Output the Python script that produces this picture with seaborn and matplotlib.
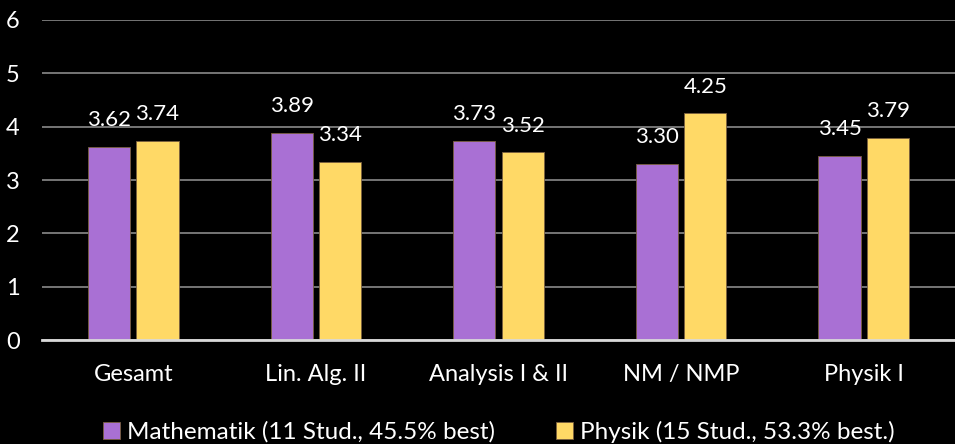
import seaborn as sns
import pandas as pd
import matplotlib.pyplot as plt

kurse = ["Gesamt", "Lin. Alg. II", "Analysis I & II", "NM / NMP", "Physik I"]
mathe = [3.62, 3.89, 3.73, 3.30, 3.45]
physik = [3.74, 3.34, 3.52, 4.25, 3.79]
gruppen = ["Mathematik (11 Stud., 45.5% best)", "Physik (15 Stud., 53.3% best.)"]

df = pd.DataFrame({
    "Kurs": kurse * 2,
    "Note": mathe + physik,
    "Gruppe": [gruppen[0]] * len(kurse) + [gruppen[1]] * len(kurse),
})

sns.set_theme(style="dark")
plt.rcParams["font.family"] = ["Lato", "DejaVu Sans"]

fig = plt.figure(figsize=(9.55, 4.44), dpi=100, facecolor="black")
ax = fig.add_axes([0.044, 0.234, 0.956, 0.721])
ax.set_facecolor("black")

farben = {gruppen[0]: "#A970D4", gruppen[1]: "#FFD966"}
sns.barplot(ax=ax, data=df, x="Kurs", y="Note", hue="Gruppe", palette=farben,
            width=0.53, gap=0.13, saturation=1, edgecolor="#7a6040", linewidth=0.6)

for c in ax.containers:
    ax.bar_label(c, fmt="%.2f", padding=12, color="white", fontsize=16)

ax.set_ylim(0, 6)
ax.set_yticks(range(7))
ax.yaxis.grid(True, color="#7f7f7f", linewidth=1.3)
ax.xaxis.grid(False)
ax.set_axisbelow(True)
for s in ["top", "right", "left"]:
    ax.spines[s].set_visible(False)
ax.spines["bottom"].set_color("#d9d9d9")
ax.spines["bottom"].set_linewidth(2)
ax.tick_params(axis="both", colors="white", labelsize=17, length=0)
ax.tick_params(axis="y", pad=16)
ax.tick_params(axis="x", pad=17)
ax.set_xlabel("")
ax.set_ylabel("")

leg = ax.legend(loc="lower center", bbox_to_anchor=(0.5, -0.39), ncol=2,
                frameon=False, fontsize=17.5, handlelength=0.7, handleheight=0.7,
                handletextpad=0.3, columnspacing=2.5)
for t in leg.get_texts():
    t.set_color("white")

fig.savefig("out.png", dpi=100, facecolor="black")
